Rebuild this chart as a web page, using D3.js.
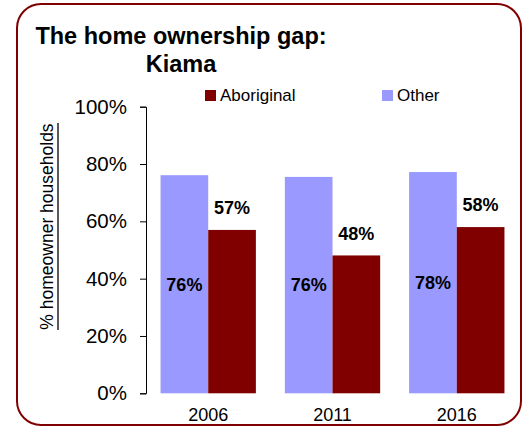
<!DOCTYPE html>
<meta charset="utf-8">
<style>
body { margin: 0; background: #fff; }
text { font-family: "Liberation Sans", Arial, sans-serif; }
</style>
<svg width="528" height="428"></svg>
<script src="https://cdn.jsdelivr.net/npm/d3@7"></script>
<script>
// data
var years = ["2006", "2011", "2016"];
var series = ["Other", "Aboriginal"];
var otherValues = [0.761, 0.755, 0.772];
var aboriginalValues = [0.570, 0.481, 0.580];
var otherLabels = ["76%", "76%", "78%"];
var aboriginalLabels = ["57%", "48%", "58%"];
var yTicks = [0, 0.2, 0.4, 0.6, 0.8, 1.0];

var colors = { Other: "#9999ff", Aboriginal: "#800000" };

var svg = d3.select("svg");

// frame
svg.append("rect")
    .attr("x", 17).attr("y", 4)
    .attr("width", 504).attr("height", 421)
    .attr("rx", 24).attr("ry", 24)
    .attr("fill", "#fff")
    .attr("stroke", "#800000")
    .attr("stroke-width", 2);

// title
svg.append("text")
    .attr("x", 181).attr("y", 44)
    .attr("text-anchor", "middle")
    .style("font-size", "23.5px").style("font-weight", "bold")
    .text("The home ownership gap:");
svg.append("text")
    .attr("x", 181).attr("y", 71.5)
    .attr("text-anchor", "middle")
    .style("font-size", "23.5px").style("font-weight", "bold")
    .text("Kiama");

// scales
var x = d3.scaleBand().domain(years).range([146, 519])
    .paddingInner(0.233).paddingOuter(0.117);
var x1 = d3.scaleBand().domain(series).range([0, x.bandwidth()]);
var y = d3.scaleLinear().domain([0, 1]).range([393.3, 106.7]);

// y axis
var yAxis = d3.axisLeft(y).tickValues(yTicks)
    .tickFormat(d3.format(".0%")).tickSizeOuter(0).tickSize(6).tickPadding(13);
var gy = svg.append("g").attr("transform", "translate(146,0)").call(yAxis);
gy.selectAll("text").style("font-size", "20.5px").attr("fill", "#000");
gy.selectAll("line, path").attr("stroke", "#000");

// y axis title, underlined
svg.append("text")
    .attr("transform", "translate(53,226.5) rotate(-90)")
    .attr("text-anchor", "middle")
    .style("font-size", "17.5px")
    .text("% homeowner households");
svg.append("line")
    .attr("x1", 58).attr("x2", 58)
    .attr("y1", 123).attr("y2", 330)
    .attr("stroke", "#000").attr("stroke-width", 1.3);

// bars
var rows = years.map(function(yr, i) {
  return { year: yr, Other: otherValues[i], Aboriginal: aboriginalValues[i],
           oLab: otherLabels[i], aLab: aboriginalLabels[i] };
});

var groups = svg.append("g").selectAll("g")
    .data(rows).enter().append("g")
    .attr("transform", function(d) { return "translate(" + x(d.year) + ",0)"; });

groups.selectAll("rect")
    .data(function(d) { return series.map(function(s) { return { key: s, value: d[s] }; }); })
    .enter().append("rect")
    .attr("x", function(d) { return x1(d.key); })
    .attr("y", function(d) { return y(d.value); })
    .attr("width", x1.bandwidth())
    .attr("height", function(d) { return y(0) - y(d.value); })
    .attr("fill", function(d) { return colors[d.key]; });

// value labels
groups.append("text")
    .attr("x", x1("Other") + x1.bandwidth() / 2)
    .attr("y", function(d) { return (y(d.Other) + y(0)) / 2; })
    .attr("dy", "0.35em")
    .attr("text-anchor", "middle")
    .style("font-size", "18px").style("font-weight", "bold")
    .text(function(d) { return d.oLab; });
groups.append("text")
    .attr("x", x1("Aboriginal") + x1.bandwidth() / 2)
    .attr("y", function(d) { return y(d.Aboriginal) - 22; })
    .attr("dy", "0.35em")
    .attr("text-anchor", "middle")
    .style("font-size", "18px").style("font-weight", "bold")
    .text(function(d) { return d.aLab; });

// x labels
svg.append("g").selectAll("text")
    .data(years).enter().append("text")
    .attr("x", function(d) { return x(d) + x.bandwidth() / 2; })
    .attr("y", 421)
    .attr("text-anchor", "middle")
    .style("font-size", "18px")
    .text(function(d) { return d; });

// legend
var legend = [
  { key: "Aboriginal", x: 205 },
  { key: "Other", x: 382 }
];
var lg = svg.append("g").selectAll("g")
    .data(legend).enter().append("g")
    .attr("transform", function(d) { return "translate(" + d.x + ",90)"; });
lg.append("rect")
    .attr("width", 11).attr("height", 11)
    .attr("fill", function(d) { return colors[d.key]; });
lg.append("text")
    .attr("x", 15).attr("y", 11)
    .style("font-size", "17px")
    .text(function(d) { return d.key; });
</script>
